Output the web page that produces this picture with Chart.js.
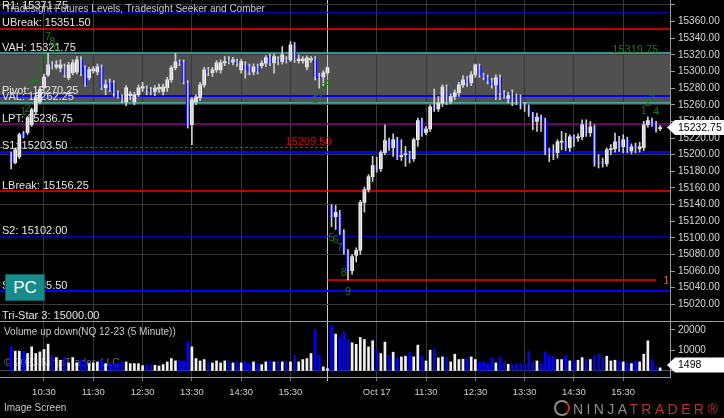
<!DOCTYPE html>
<html>
<head>
<meta charset="utf-8">
<script src="https://cdn.jsdelivr.net/npm/chart.js@4.4.0/dist/chart.umd.min.js"></script>
<style>
  html, body { margin: 0; padding: 0; background: #000; }
  #wrap { position: relative; width: 724px; height: 418px; overflow: hidden; background: #000;
          font-family: "Liberation Sans", Arial, sans-serif; }
  canvas { position: absolute; left: 0; }
  #price { top: 0; }
  #vol { top: 322px; }
  #pc { position: absolute; left: 5px; top: 274px; width: 38px; height: 25px; background: #178a8a;
        border: 1px solid #0c5e5e; color: #fff; font-size: 17px; line-height: 25px; text-align: center; }
  #imgscreen { position: absolute; left: 4px; top: 402px; color: #c8c8c8; font-size: 10px; }
  #logo { position: absolute; left: 554px; top: 400px; height: 16px; white-space: nowrap; font-size: 14px; letter-spacing: 3.4px; }
  #logo .ring { display: inline-block; width: 12px; height: 12px; border: 2px solid #8a8a8a; border-right-color: #b8342a;
                border-radius: 50%; vertical-align: -2px; margin-right: 3px; }
  #logo .n { color: #8f8f8f; }
  #logo .t { color: #b8342a; }
</style>
</head>
<body>
<div id="wrap">
  <canvas id="price" width="724" height="322"></canvas>
  <canvas id="vol" width="724" height="96"></canvas>
  <div id="pc">PC</div>
  <div id="imgscreen">Image Screen</div>
  <div id="logo"><span class="ring"></span><span class="n">NINJA</span><span class="t">TRADER®</span></div>
</div>
<script>
// 5 minute bars, bar numbers counted from 9:30 of the first session (81 = 9:30 Oct 17)
const firstBar = 4;
const opens = [
  15200,15190.5,15197.5,15226.5,15226.5,15236,15251.5,15263.5,15280.5,15296,
  15308,15305.5,15304,15305.5,15292.5,15298.5,15299.5,15314,15304.5,15292.5,
  15301,15299.5,15305.5,15280.5,15286.5,15286.5,15274.5,15269.5,15263.5,15271,
  15263.5,15272,15280,15279,15278,15276,15279,15276,15280.5,15290,
  15304.5,15311.5,15311.5,15286.5,15236,15263.5,15268.5,15284,15302,15298.5,
  15302,15302,15310.5,15314,15311.5,15312,15302,15308,15305.5,15299.5,
  15306,15307,15310,15318,15310.5,15314,15312,15314,15314,15332,
  15313,15313,15305.5,15314,15315,15293.5,15293.5,15298.5,
  15137.5,15125.5,15129,15107.5,15083.5,15060.5,15079,15085,15142.5,15158,
  15173.5,15187,15183,15202.5,15217,15208.5,15218,15197.5,15200,15201,
  15195,15218,15241,15226.5,15231,15257.5,15255,15262,15281.5,15264,
  15270,15274.5,15284,15291,15286.5,15296,15307,15296,15293.5,15289,
  15284,15292.5,15274.5,15268,15274.5,15270,15269.5,15259.5,15257.5,15249,
  15240,15245.5,15241,15205,15205,15202.5,15215,15215.5,15208.5,15221.5,
  15220,15221.5,15236,15226.5,15233.5,15191.5,15192,15189,15206,15207,
  15215.5,15209.5,15218,15204.5,15211,15207,15208.5,15236,15241,15237,15231
];
const highs = [
  15203,15208,15226,15228,15246,15256,15272,15281,15297,15322,
  15312,15313,15314,15309,15311,15314,15318,15318,15307,15305,
  15306,15309,15308,15290,15291,15289,15277,15272,15283,15276,
  15275,15284,15287,15283,15281,15283,15285,15285,15293,15307,
  15322,15314,15314,15289,15269,15272,15287,15305,15305,15305,
  15313,15314,15318,15318,15317,15315,15315,15312,15309,15309,
  15309,15313,15319,15321,15321,15318,15330,15318,15336,15335,
  15320,15318,15319,15318,15318,15298,15301,15306,
  15140,15139,15133,15110,15086,15080,15088,15145,15161,15176,
  15198,15197,15205,15236,15220,15225,15221,15218,15210,15204,
  15220,15244,15244,15234,15260,15279,15270,15284,15284,15273,
  15278,15287,15295,15294,15300,15309,15309,15298,15296,15292,
  15296,15296,15277,15275,15278,15273,15272,15263,15260,15251,
  15250,15248,15244,15208,15212,15218,15228,15226,15224,15224,
  15225,15242,15242,15240,15236,15200,15196,15208,15212,15226,
  15222,15224,15221,15213,15214,15215,15240,15245.5,15244,15240,15235
];
const lows = [
  15183,15189,15195,15220,15224,15234,15249,15261,15278,15294,
  15303,15303,15299.5,15293,15290,15296,15297,15295,15282,15290,
  15298,15296,15278,15272,15276,15270,15268,15262.5,15259,15266,
  15260,15270,15276,15272,15272,15271,15275,15272,15276,15287,
  15302,15307,15285,15232,15212,15260,15265,15281,15295,15294,
  15299,15298,15307,15309,15308,15306,15298,15292,15296,15296,
  15297,15304,15306,15307,15298,15308,15309,15310,15312,15311,
  15310,15310,15302,15311,15290,15280,15283,15296,
  15113.5,15110,15104,15080,15049.25,15056,15071,15080,15131,15155,
  15168,15179,15180,15200,15205,15198,15194,15193,15186,15190,
  15192,15210,15222,15224,15228,15252,15252,15258,15260,15261,
  15266,15270,15281,15282,15283,15293,15293,15290,15285,15280,
  15266,15266,15268,15262,15259,15260,15255,15252,15246,15230,
  15228,15228,15200,15191.5,15194,15196,15206,15205,15204,15210,
  15216,15218,15222,15222,15186,15184,15185,15186,15200,15203,
  15204,15202,15202,15201,15202,15203,15205,15233,15234,15227,15229
];
const closes = [
  15191.5,15206,15224,15221.5,15244.5,15254,15269.5,15278,15293.5,15308,
  15305.5,15308,15308,15296,15308,15310.5,15314,15297,15284,15302,
  15303,15305.5,15280.5,15284,15278,15274.5,15271,15266,15280.5,15273,
  15272,15280.5,15282,15277,15276,15280,15281,15281.5,15290,15304.5,
  15311.5,15310,15287.5,15236,15266,15269.5,15284,15302,15298.5,15302,
  15310.5,15310.5,15312,15311.5,15314,15310,15312,15302,15299.5,15305.5,
  15300,15310,15316.5,15310.5,15318,15312,15320,15312.5,15332,15314,
  15315,15315,15316.5,15315.5,15293.5,15292.5,15298.5,15304.5,
  15125.5,15130.5,15107.5,15083.5,15060.5,15077.5,15085,15142.5,15158,15173.5,
  15187,15183,15202.5,15217,15208.5,15218,15197.5,15199,15201,15195,
  15218,15241,15226.5,15231,15257.5,15255,15262,15281.5,15264,15270,
  15274.5,15284,15290,15286.5,15296,15308,15296,15293.5,15289,15284,
  15292.5,15274.5,15271,15271,15263.5,15264,15259,15258.5,15249,15239.5,
  15245,15242,15205,15203.5,15203.5,15215.5,15216,15208.5,15221.5,15219,
  15221.5,15236,15226.5,15233.5,15189,15189,15189,15206,15207,15215.5,
  15208.5,15218,15206,15209.5,15208.5,15209.5,15236,15241,15237,15230,15232.75
];
const volumes = [
  12090,9640,9640,9640,8500,11760,8500,9310,10460,13070,
  7190,6540,5230,6540,3920,6540,3920,5230,4410,3590,
  3920,4410,5230,3590,3590,3270,3920,4580,4410,3590,
  3590,3590,2610,3100,3100,2780,2450,3100,4410,6050,
  4900,4900,4900,14220,11760,6050,4900,5560,3920,3920,
  4900,3920,4900,4900,3920,4410,3920,4410,3590,4410,
  3590,3100,4410,4900,4410,4900,4410,4410,4410,7680,
  4410,5560,6050,8500,20260,7680,1960,1140,
  22000,17970,16670,19120,15360,13730,13000,16340,15360,11760,
  14710,10460,8500,14050,7680,9150,6540,6860,7190,8820,
  6860,12580,7190,4900,10130,10780,6370,6860,6860,4410,
  8170,5560,5720,6050,6860,5560,4410,4410,3590,6540,
  3920,6860,3920,3270,3270,3590,3590,3920,9800,4410,
  4900,3590,9310,7680,6860,5560,5560,7680,4900,4900,
  5230,6540,5560,5560,7680,8500,6540,7190,4900,5230,
  4900,4410,3920,3590,4900,4410,8170,14710,5560,1960,1498
];

const sessionBreak = 81;
const xTickIdx  = [12, 24, 36, 48, 60, 72, 81, 93, 105, 117, 129, 141, 153];
const xTickText = ['10:30', '11:30', '12:30', '13:30', '14:30', '15:30', '', 'Oct 17', '11:30', '12:30', '13:30', '14:30', '15:30'];
const priceTicks = [15020, 15040, 15060, 15080, 15100, 15120, 15140, 15160, 15180, 15200,
                    15220, 15240, 15260, 15280, 15300, 15320, 15340, 15360, 15380];
const volTicks = [0, 10000, 20000];

const levelNames  = ['R1', 'UBreak', 'VAH', 'Pivot', 'VAL', 'LPT', 'S1', 'LBreak', 'S2', 'S3', 'Tri-Star 3'];
const levelValues = [15371.75, 15351.50, 15321.75, 15270.25, 15262.25, 15236.75, 15203.50, 15156.25, 15102.00, 15035.50, 15000.00];
const prevCloseLevel = 15209.50;
const sessionLow = 15049.25;
const devVah = 15319.75;

// Tradesight Seeker counts
const seekerBar   = [7, 8, 9, 10, 11, 12, 13, 14, 15, 78, 79, 80, 81, 82, 83, 84, 85, 86, 158, 159, 160, 161];
const seekerPrice = [15251.5, 15255, 15284, 15290, 15301, 15315, 15341.5, 15335.5, 15326, 15266, 15267, 15280, 15285,
                     15100, 15098, 15088, 15058, 15035, 15253, 15262.5, 15267, 15251.5];
const seekerText  = ['1', '2', '3', '4', '5', '6', '7', '8', '9', '1', '2', '3', '4', '5', '6', '7', '8', '9', '1', '2', '3', '4'];

const FONT = '"Liberation Sans", Arial, sans-serif';
const lastBar = firstBar + closes.length - 1;

// line colour and width per level (Tri-Star 3 sits on the panel border)
const levelStyle = {
  'R1': ['#0000b4', 1], 'UBreak': ['#ff0000', 1.5], 'VAH': ['#3cc3b4', 1.5], 'Pivot': ['#0000ff', 2],
  'VAL': ['#3cc3b4', 1.5], 'LPT': ['#8b008b', 1.5], 'S1': ['#0000ff', 2], 'LBreak': ['#ff0000', 1.5],
  'S2': ['#0000b4', 1], 'S3': ['#0000ff', 2], 'Tri-Star 3': ['#0000ff', 0]
};

function hline(ctx, x1, x2, y, color, w, dash) {
  if (!w) return;
  ctx.save();
  ctx.strokeStyle = color;
  ctx.lineWidth = w;
  if (dash) ctx.setLineDash(dash);
  ctx.beginPath();
  const yy = w % 2 === 1 ? Math.round(y) + 0.5 : Math.round(y);
  ctx.moveTo(x1, yy);
  ctx.lineTo(x2, yy);
  ctx.stroke();
  ctx.restore();
}

function marker(ctx, y, text) {
  ctx.save();
  ctx.fillStyle = '#ffffff';
  ctx.beginPath();
  ctx.moveTo(667, y);
  ctx.lineTo(675, y - 7.5);
  ctx.lineTo(724, y - 7.5);
  ctx.lineTo(724, y + 7.5);
  ctx.lineTo(675, y + 7.5);
  ctx.closePath();
  ctx.fill();
  ctx.fillStyle = '#000';
  ctx.font = '10.5px ' + FONT;
  ctx.textBaseline = 'middle';
  ctx.fillText(text, 678, y + 0.5);
  ctx.restore();
}

function xScale(showLabels) {
  return {
    type: 'linear', min: 1.29, max: 164.39, offset: false,
    afterBuildTicks: s => { s.ticks = xTickIdx.map(v => ({ value: v })); },
    grid: {
      offset: false, lineWidth: 1, drawTicks: showLabels, tickLength: 4,
      color: c => (c.tick && c.tick.value === sessionBreak ? '#c8c8c8' : '#383838'),
      tickColor: c => (c.tick && c.tick.value === sessionBreak ? '#c8c8c8' : '#777')
    },
    border: { color: '#9a9a9a' },
    ticks: {
      display: showLabels, autoSkip: false, maxRotation: 0, color: '#d0d0d0', padding: 6,
      font: { family: FONT, size: 9.5 },
      callback: v => { const k = xTickIdx.indexOf(v); return k >= 0 ? xTickText[k] : ''; }
    },
    afterFit: s => { s.height = showLabels ? 41 : 1; s.paddingLeft = 0; s.paddingRight = 0; }
  };
}

const pricePlugin = {
  id: 'tradesight',
  beforeDraw(chart) {
    const { ctx, chartArea: a, scales: { y } } = chart;
    const top = y.getPixelForValue(levelValues[levelNames.indexOf('VAH')]);
    const bot = y.getPixelForValue(levelValues[levelNames.indexOf('VAL')]);
    ctx.save();
    ctx.fillStyle = '#505050';
    ctx.fillRect(a.left, top, a.right - a.left, bot - top);
    ctx.restore();
  },
  beforeDatasetsDraw(chart) {
    const { ctx, chartArea: a, scales: { x, y } } = chart;
    levelNames.forEach((n, k) => {
      const st = levelStyle[n];
      hline(ctx, a.left, a.right, y.getPixelForValue(levelValues[k]), st[0], st[1]);
    });
    const xb = x.getPixelForValue(sessionBreak);
    hline(ctx, a.left, xb, y.getPixelForValue(prevCloseLevel), '#ff0000', 1, [3, 2]);
    hline(ctx, xb, x.getPixelForValue(lastBar - 1), y.getPixelForValue(sessionLow), '#ff0000', 1.5);
  },
  afterDatasetsDraw(chart) {
    const { ctx, chartArea: a, scales: { x, y } } = chart;
    ctx.save();
    ctx.font = '11px ' + FONT;
    ctx.fillStyle = '#e4e4e4';
    ctx.textBaseline = 'alphabetic';
    levelNames.forEach((n, k) => {
      ctx.fillText(n + ': ' + levelValues[k].toFixed(2), 2, y.getPixelForValue(levelValues[k]) - 2.5);
    });
    // title
    ctx.font = '10px ' + FONT;
    ctx.fillStyle = '#c8c8c8';
    ctx.fillText('Tradesight Futures Levels, Tradesight Seeker and Comber', 5, 12);
    // seeker counts
    ctx.font = '11px ' + FONT;
    ctx.fillStyle = '#1b7a1b';
    ctx.textAlign = 'center';
    ctx.textBaseline = 'middle';
    seekerBar.forEach((b, k) => ctx.fillText(seekerText[k], x.getPixelForValue(b), y.getPixelForValue(seekerPrice[k])));
    // developing VAH
    ctx.textAlign = 'right';
    ctx.textBaseline = 'alphabetic';
    ctx.fillText(devVah.toFixed(2), x.getPixelForValue(lastBar) - 2, y.getPixelForValue(devVah) - 2);
    // previous close
    ctx.fillStyle = '#e00000';
    ctx.fillText(prevCloseLevel.toFixed(2), x.getPixelForValue(sessionBreak) + 4, y.getPixelForValue(prevCloseLevel) - 1.5);
    // session low label, clipped by the plot
    ctx.beginPath();
    ctx.rect(a.left, a.top, a.right - a.left, a.bottom - a.top);
    ctx.clip();
    ctx.textAlign = 'left';
    ctx.textBaseline = 'middle';
    ctx.fillStyle = '#c86a00';
    ctx.fillText(sessionLow.toFixed(2), x.getPixelForValue(lastBar) + 3, y.getPixelForValue(sessionLow) + 1);
    ctx.restore();
  },
  afterDraw(chart) {
    const { ctx, chartArea: a, scales: { y } } = chart;
    hline(ctx, a.right, chart.width, a.bottom, '#9a9a9a', 1);
    const last = closes[closes.length - 1];
    marker(ctx, y.getPixelForValue(last), last.toFixed(2));
  }
};

const volPlugin = {
  id: 'volText',
  beforeDatasetsDraw(chart) {
    const ctx = chart.ctx;
    ctx.save();
    ctx.font = '10.5px ' + FONT;
    ctx.fillStyle = 'rgba(190,190,190,0.55)';
    ctx.fillText('\u00a9 2023 NinjaTrader, LLC', 4, 44);
    ctx.restore();
  },
  afterDraw(chart) {
    const ctx = chart.ctx;
    ctx.save();
    ctx.font = '10px ' + FONT;
    ctx.fillStyle = '#c8c8c8';
    ctx.fillText('Volume up down(NQ 12-23 (5 Minute))', 4, 13);
    ctx.restore();
    const v = volumes[volumes.length - 1];
    marker(ctx, chart.scales.y.getPixelForValue(v) - 3, String(v));
  }
};

const bars = closes.map((c, k) => firstBar + k);
const bodyColors = closes.map((c, k) => (c >= opens[k] ? '#ffffff' : '#0000ff'));
const volColors = closes.map((c, k) => (c >= opens[k] ? '#f0f0f0' : '#0000ff'));

Chart.defaults.font.family = FONT;

new Chart(document.getElementById('price'), {
  type: 'bar',
  data: {
    datasets: [
      {
        label: 'wick',
        data: bars.map((b, k) => ({ x: b, y: [lows[k], highs[k]] })),
        backgroundColor: '#cfcfcf', barThickness: 1, grouped: false, minBarLength: 1
      },
      {
        label: 'body',
        data: bars.map((b, k) => ({ x: b, y: [opens[k], closes[k]] })),
        backgroundColor: bodyColors, barThickness: 3, grouped: false, minBarLength: 1
      }
    ]
  },
  options: {
    responsive: false, animation: false, events: [],
    layout: { padding: 0 },
    plugins: { legend: { display: false }, tooltip: { enabled: false } },
    scales: {
      x: xScale(false),
      y: {
        position: 'right', min: 15000, max: 15386,
        afterBuildTicks: s => { s.ticks = priceTicks.map(v => ({ value: v })); },
        grid: {
          drawTicks: true, tickLength: 5, tickColor: '#9a9a9a',
          color: c => (c.tick && (c.tick.value - 15020) % 60 === 0 ? '#383838' : 'rgba(0,0,0,0)')
        },
        border: { color: '#9a9a9a' },
        ticks: {
          autoSkip: false, color: '#d8d8d8', padding: 3, font: { family: FONT, size: 10 },
          callback: v => (v < 15370 ? Number(v).toFixed(2) : '')
        },
        afterFit: s => { s.width = 54; s.paddingTop = 0; s.paddingBottom = 0; }
      }
    }
  },
  plugins: [pricePlugin]
});

new Chart(document.getElementById('vol'), {
  type: 'bar',
  data: {
    datasets: [{
      label: 'Volume',
      data: bars.map((b, k) => ({ x: b, y: volumes[k] })),
      backgroundColor: volColors, barThickness: 2, grouped: false
    }]
  },
  options: {
    responsive: false, animation: false, events: [],
    layout: { padding: 0 },
    plugins: { legend: { display: false }, tooltip: { enabled: false } },
    scales: {
      x: xScale(true),
      y: {
        position: 'right', min: -2940, max: 23860,
        afterBuildTicks: s => { s.ticks = volTicks.map(v => ({ value: v })); },
        grid: {
          drawTicks: true, tickLength: 5, tickColor: '#9a9a9a',
          color: c => (c.tick && c.tick.value === 0 ? '#4a4a4a' : 'rgba(0,0,0,0)')
        },
        border: { color: '#9a9a9a' },
        ticks: {
          autoSkip: false, color: '#d8d8d8', padding: 3, font: { family: FONT, size: 10 },
          callback: v => (v > 0 ? String(v) : '')
        },
        afterFit: s => { s.width = 54; s.paddingTop = 0; s.paddingBottom = 0; }
      }
    }
  },
  plugins: [volPlugin]
});
</script>
</body>
</html>
